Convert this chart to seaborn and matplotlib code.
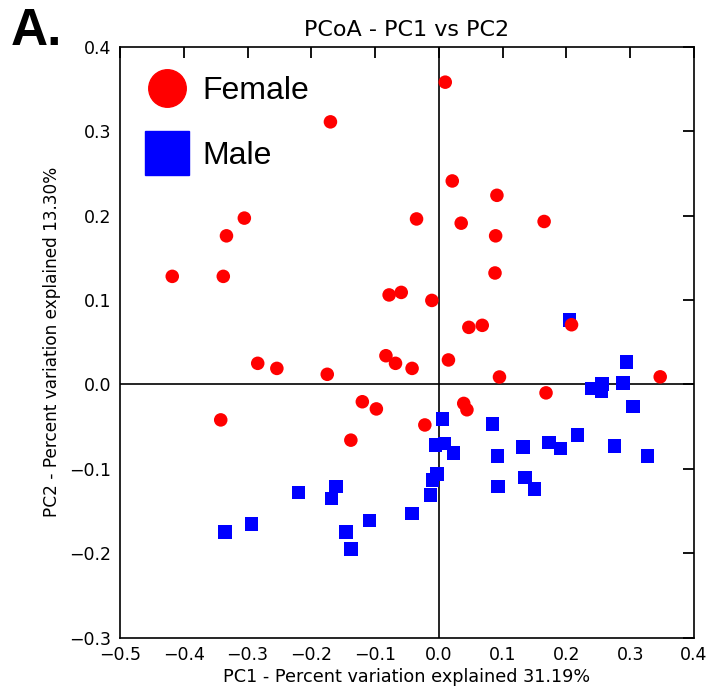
import matplotlib
matplotlib.use("Agg")
import matplotlib.pyplot as plt
import seaborn as sns
import pandas as pd
from matplotlib.lines import Line2D

female_pc1 = [0.010, -0.170, -0.305, -0.333, -0.035, 0.021, 0.091, 0.035, 0.089, 0.165,
              -0.418, -0.338, -0.078, -0.059, -0.011, -0.284, -0.254, -0.175, -0.083, -0.068,
              -0.042, 0.015, -0.120, -0.098, -0.342, -0.022, -0.138, 0.088, 0.047, 0.068,
              0.208, 0.095, 0.347, 0.168, 0.039, 0.044]
female_pc2 = [0.358, 0.311, 0.197, 0.176, 0.196, 0.241, 0.224, 0.191, 0.176, 0.193,
              0.128, 0.128, 0.106, 0.109, 0.0995, 0.025, 0.019, 0.012, 0.034, 0.025,
              0.019, 0.029, -0.0205, -0.029, -0.042, -0.048, -0.066, 0.132, 0.0676, 0.070,
              0.0707, 0.0088, 0.009, -0.010, -0.0225, -0.030]

male_pc1 = [0.205, 0.294, 0.289, 0.256, 0.240, 0.255, 0.304, 0.006, 0.084, 0.217,
            0.009, -0.005, 0.023, 0.132, 0.173, 0.191, 0.275, 0.092, 0.327, -0.003,
            -0.010, -0.013, 0.093, 0.135, 0.150, -0.042, -0.109, -0.161, -0.168, -0.220,
            -0.294, -0.335, -0.146, -0.138]
male_pc2 = [0.076, 0.0265, 0.002, 0.0005, -0.005, -0.008, -0.026, -0.041, -0.047, -0.060,
            -0.070, -0.072, -0.081, -0.074, -0.069, -0.076, -0.073, -0.085, -0.085, -0.106,
            -0.113, -0.131, -0.121, -0.110, -0.124, -0.153, -0.161, -0.121, -0.135, -0.128,
            -0.165, -0.175, -0.175, -0.195]

groups = ["Female", "Male"]
colors = {"Female": "#ff0000", "Male": "#0000ff"}
markers = {"Female": "o", "Male": "s"}

df = pd.DataFrame({
    "PC1": male_pc1 + female_pc1,
    "PC2": male_pc2 + female_pc2,
    "Sex": ["Male"] * len(male_pc1) + ["Female"] * len(female_pc1),
})

sns.set_style("white")
plt.rcParams["font.family"] = ["DejaVu Sans"]
plt.rcParams["text.color"] = "black"
plt.rcParams["axes.labelcolor"] = "black"

fig = plt.figure(figsize=(7.14, 6.91), dpi=100)
ax = fig.add_axes([0.168, 0.0771, 0.804, 0.8553])

ax.axhline(0, color="black", lw=1.2, zorder=1)
ax.axvline(0, color="black", lw=1.2, zorder=1)

sns.scatterplot(data=df, x="PC1", y="PC2", hue="Sex", style="Sex",
                palette=colors, markers=markers, s=95, linewidth=0,
                ax=ax, legend=False, zorder=3)

ax.set_xlim(-0.5, 0.4)
ax.set_ylim(-0.3, 0.4)
ax.set_xticks([-0.5, -0.4, -0.3, -0.2, -0.1, 0.0, 0.1, 0.2, 0.3, 0.4])
ax.set_yticks([-0.3, -0.2, -0.1, 0.0, 0.1, 0.2, 0.3, 0.4])
ax.tick_params(direction="in", length=8, width=1.3, top=True, right=True,
               labelsize=12.5, colors="black", pad=6)
for sp in ax.spines.values():
    sp.set_color("black")
    sp.set_linewidth(1.2)

ax.set_xlabel("PC1 - Percent variation explained 31.19%", fontsize=12.7, labelpad=3)
ax.set_ylabel("PC2 - Percent variation explained 13.30%", fontsize=12.2, labelpad=6)
ax.set_title("PCoA - PC1 vs PC2", fontsize=16, pad=8)

handles = [Line2D([], [], marker=markers[g], color=colors[g], linestyle="none",
                  markersize=27 if g == "Female" else 32) for g in groups]
leg = ax.legend(handles, groups, loc="upper left", frameon=False,
                prop={"family": "Liberation Sans", "size": 23},
                bbox_to_anchor=(-0.030, 1.005), handletextpad=0.12, labelspacing=1.1,
                borderaxespad=0.6)

fig.text(0.015, 1 - 45 / 691, "A.", fontsize=37, fontweight="bold",
         family="Liberation Sans", ha="left", va="baseline", color="black")

fig.savefig("out.png", dpi=100)
